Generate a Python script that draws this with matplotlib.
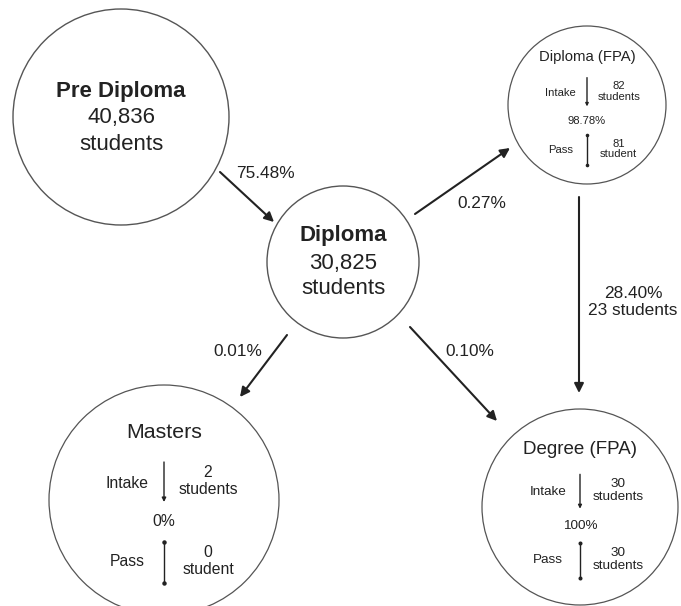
import matplotlib
matplotlib.use("Agg")
import matplotlib.pyplot as plt
from matplotlib.patches import Circle

plt.rcParams['font.family'] = ['Liberation Sans', 'DejaVu Sans']

# ---- data ----
main_names = ["Pre Diploma", "Diploma"]
main_counts = ["40,836", "30,825"]
sub_names = ["Diploma (FPA)", "Masters", "Degree (FPA)"]
sub_intake = ["82\nstudents", "2\nstudents", "30\nstudents"]
sub_pass = ["81\nstudent", "0\nstudent", "30\nstudents"]
sub_rate = ["98.78%", "0%", "100%"]
flow_labels = ["75.48%", "0.27%", "0.01%", "0.10%", "28.40%\n23 students"]

# ---- layout (pixel coordinates, y downward) ----
W, H = 681, 606
fig = plt.figure(figsize=(W / 100, H / 100), dpi=100)
ax = fig.add_axes([0, 0, 1, 1])
ax.set_xlim(0, W)
ax.set_ylim(H, 0)
ax.set_aspect('equal')
ax.axis('off')

TXT = '#222222'
EDGE = '#555555'

main_pos = [(121, 117, 108), (343, 262, 76)]
main_fs = [16, 16]
for (cx, cy, r), name, cnt, fs in zip(main_pos, main_names, main_counts, main_fs):
    ax.add_patch(Circle((cx, cy), r, fill=False, ec=EDGE, lw=1.0))
    ax.text(cx, cy - 26, name, ha='center', va='center', fontsize=fs,
            fontweight='bold', color=TXT)
    ax.text(cx, cy + 1, cnt, ha='center', va='center', fontsize=fs, color=TXT)
    ax.text(cx, cy + 27, "students", ha='center', va='center', fontsize=fs, color=TXT)

# sub circles: (cx, cy, r, scale)
sub_pos = [(587, 105, 79, 0.72), (164, 500, 115, 1.0), (580, 507, 98, 0.86)]
title_fs = [10.7, 15.4, 13.5]
for (cx, cy, r, s), name, intake, pas, rate, tfs in zip(
        sub_pos, sub_names, sub_intake, sub_pass, sub_rate, title_fs):
    ax.add_patch(Circle((cx, cy), r, fill=False, ec=EDGE, lw=0.9))
    fs = 11.3 * s
    ax.text(cx, cy - 67 * s, name, ha='center', va='center', fontsize=tfs, color=TXT)
    # intake arrow
    ax.annotate("", xy=(cx, cy + 2 * s), xytext=(cx, cy - 38 * s),
                arrowprops=dict(arrowstyle='-|>', color=TXT, lw=1.0,
                                mutation_scale=6 * s, shrinkA=0, shrinkB=0))
    ax.text(cx - 37 * s, cy - 17 * s, "Intake", ha='center', va='center',
            fontsize=fs, color=TXT)
    ax.text(cx + 44 * s, cy - 19 * s, intake, ha='center', va='center',
            fontsize=fs, color=TXT, linespacing=1.1)
    ax.text(cx, cy + 22 * s, rate, ha='center', va='center', fontsize=fs, color=TXT)
    # pass line
    ax.plot([cx, cx], [cy + 42 * s, cy + 83 * s], color=TXT, lw=1.0,
            marker='o', markersize=2.2 * s, solid_capstyle='butt')
    ax.text(cx - 37 * s, cy + 62 * s, "Pass", ha='center', va='center',
            fontsize=fs, color=TXT)
    ax.text(cx + 44 * s, cy + 61 * s, pas, ha='center', va='center',
            fontsize=fs, color=TXT, linespacing=1.1)

# flows: (start, end, label position)
flows = [((220, 172), (274, 222), (265, 174)),
         ((415, 214), (510, 148), (482, 203)),
         ((287, 335), (240, 397), (238, 351)),
         ((410, 327), (497, 421), (470, 352)),
         ((579, 197), (579, 393), (633, 302))]
for (s0, s1, lp), lab in zip(flows, flow_labels):
    ax.annotate("", xy=s1, xytext=s0,
                arrowprops=dict(arrowstyle='-|>', color=TXT, lw=1.5,
                                mutation_scale=14, shrinkA=0, shrinkB=0))
    ax.text(lp[0], lp[1], lab, ha='center', va='center', fontsize=12.4,
            color=TXT, linespacing=1.2)

fig.savefig("out.png", dpi=100, facecolor='white')
